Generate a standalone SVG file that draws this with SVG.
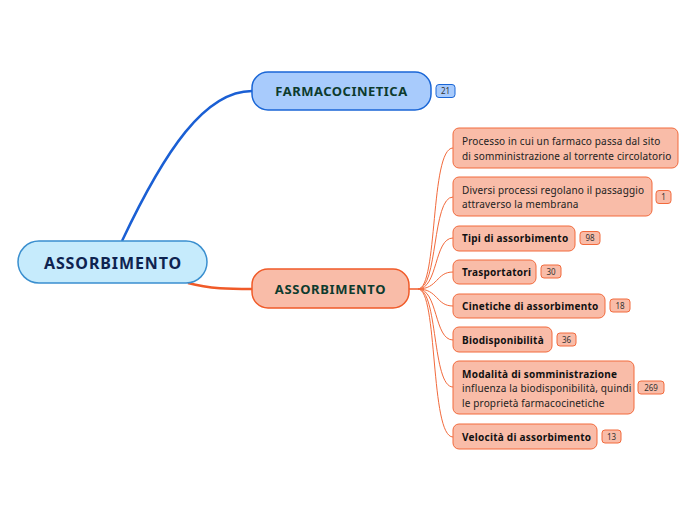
<svg xmlns="http://www.w3.org/2000/svg" width="696" height="520" viewBox="0 0 696 520">
<style>
text{font-family:"Noto Sans","Open Sans","DejaVu Sans",sans-serif}
.leaf rect.b{fill:#f9bca8;stroke:#f26a3c;stroke-width:1}
.badge rect{fill:#f9bca8;stroke:#f26a3c;stroke-width:1}
.badge text{font-size:8px;fill:#333;text-anchor:middle}
.lt{font-size:10px;fill:#222;letter-spacing:0.15px}
.lb{font-size:10px;fill:#111;font-weight:bold;letter-spacing:0.25px}
.sub{fill:none;stroke:#f26a3c;stroke-width:1}
</style>
<g id="connectors">
<path d="M122,241 C165,150 205,91 252,91" fill="none" stroke="#1a5fd4" stroke-width="2.5"/>
<path d="M188,283 C210,289 230,289 252,289" fill="none" stroke="#f05a28" stroke-width="2.5"/>
<path d="M409,289 L418,289" fill="none" stroke="#f05a28" stroke-width="1.5"/>
<path class="sub" d="M418,289 C438,289 430,148 453,148"/>
<path class="sub" d="M418,289 C438,289 432,197 453,197"/>
<path class="sub" d="M418,289 C438,289 434,238 453,238"/>
<path class="sub" d="M418,289 C438,289 436,272 453,272"/>
<path class="sub" d="M418,289 C438,289 436,306 453,306"/>
<path class="sub" d="M418,289 C438,289 434,340 453,340"/>
<path class="sub" d="M418,289 C438,289 432,387 453,387"/>
<path class="sub" d="M418,289 C438,289 430,437 453,437"/>
</g>
<g id="root">
<rect x="18" y="241" width="189" height="42" rx="21" fill="#c6ebfc" stroke="#3a8fcf" stroke-width="1.5"/>
<text x="113" y="268.5" font-size="16" font-weight="bold" fill="#0e2350" text-anchor="middle" letter-spacing="0.9">ASSORBIMENTO</text>
</g>
<g id="farmacocinetica">
<rect x="252" y="72" width="179" height="38" rx="16" fill="#a8cbfc" stroke="#1a66d6" stroke-width="1.5"/>
<text x="341.5" y="96" font-size="13" font-weight="bold" fill="#0d3b2e" text-anchor="middle" letter-spacing="0.5">FARMACOCINETICA</text>
<g class="badge"><rect x="436" y="84.5" width="19" height="13" rx="3" style="fill:#a8cbfc;stroke:#1a66d6"/><text x="445.5" y="94">21</text></g>
</g>
<g id="assorbimento">
<rect x="252" y="269" width="157" height="39" rx="16" fill="#f9bca8" stroke="#f05a28" stroke-width="1.5"/>
<text x="330.5" y="293.5" font-size="13" font-weight="bold" fill="#0d3b2e" text-anchor="middle" letter-spacing="0.65">ASSORBIMENTO</text>
</g>
<g id="processo" class="leaf">
<rect class="b" x="453" y="128" width="225" height="40" rx="6"/>
<text class="lt" x="462" y="145">Processo in cui un farmaco passa dal sito</text>
<text class="lt" x="462" y="160">di somministrazione al torrente circolatorio</text>
</g>
<g id="diversi" class="leaf">
<rect class="b" x="453" y="177" width="199" height="39" rx="6"/>
<text class="lt" x="462" y="194">Diversi processi regolano il passaggio</text>
<text class="lt" x="462" y="208">attraverso la membrana</text>
<g class="badge"><rect x="656" y="190.5" width="15" height="13" rx="3"/><text x="663.5" y="200">1</text></g>
</g>
<g id="tipi" class="leaf">
<rect class="b" x="453" y="226" width="122" height="25" rx="6"/>
<text class="lb" x="462" y="242">Tipi di assorbimento</text>
<g class="badge"><rect x="580" y="231.5" width="20" height="13" rx="3"/><text x="590" y="241">98</text></g>
</g>
<g id="trasportatori" class="leaf">
<rect class="b" x="453" y="260" width="83" height="24" rx="6"/>
<text class="lb" x="462" y="275.5">Trasportatori</text>
<g class="badge"><rect x="541" y="265" width="20" height="13" rx="3"/><text x="551" y="274.5">30</text></g>
</g>
<g id="cinetiche" class="leaf">
<rect class="b" x="453" y="294" width="152" height="24" rx="6"/>
<text class="lb" x="462" y="310">Cinetiche di assorbimento</text>
<g class="badge"><rect x="610" y="299" width="20" height="13" rx="3"/><text x="620" y="308.5">18</text></g>
</g>
<g id="biodisponibilita" class="leaf">
<rect class="b" x="453" y="327" width="99" height="25" rx="6"/>
<text class="lb" x="462" y="343.5">Biodisponibilità</text>
<g class="badge"><rect x="557" y="333" width="19" height="13" rx="3"/><text x="566.5" y="342.5">36</text></g>
</g>
<g id="modalita" class="leaf">
<rect class="b" x="453" y="361" width="181" height="53" rx="6"/>
<text class="lb" x="462" y="378">Modalità di somministrazione</text>
<text class="lt" x="462" y="392">influenza la biodisponibilità, quindi</text>
<text class="lt" x="462" y="407">le proprietà farmacocinetiche</text>
<g class="badge"><rect x="638" y="381" width="26" height="13" rx="3"/><text x="651" y="390.5">269</text></g>
</g>
<g id="velocita" class="leaf">
<rect class="b" x="453" y="424" width="144" height="25" rx="6"/>
<text class="lb" x="462" y="440.5">Velocità di assorbimento</text>
<g class="badge"><rect x="602" y="430" width="19" height="13" rx="3"/><text x="611.5" y="439.5">13</text></g>
</g>
</svg>
